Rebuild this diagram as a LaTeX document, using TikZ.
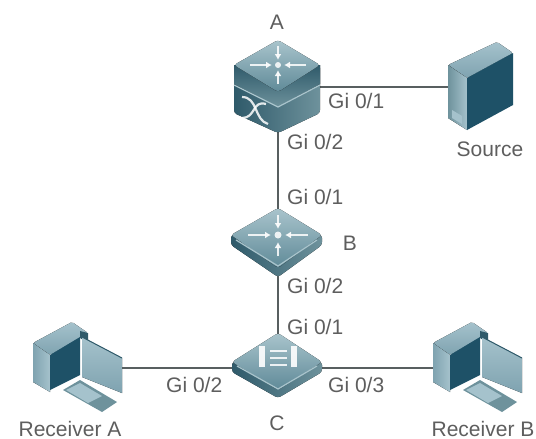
\documentclass[tikz,border=0pt]{standalone}
\usepackage{fontspec}
\setmainfont{Liberation Sans}
\usetikzlibrary{arrows.meta}
\definecolor{ink}{HTML}{5E5E5E}
\definecolor{wirec}{HTML}{585F60}
\definecolor{topa}{HTML}{A9C4CC}
\definecolor{topb}{HTML}{5F8A98}
\definecolor{sidea}{HTML}{6E929C}
\definecolor{sideb}{HTML}{2F5A6A}
\definecolor{darkf}{HTML}{1E5167}
\definecolor{lightf}{HTML}{A5C2CC}
\definecolor{lightg}{HTML}{7FA3B0}
\tikzset{
  x=1pt,y=-1pt,
  lbl/.style={font=\fontsize{21}{21}\selectfont,text=ink,inner sep=0pt},
  lblw/.style={lbl,anchor=west},
  wire/.style={draw=wirec,line width=1.8pt},
  topface/.style={top color=topa,bottom color=topb,draw=none,rounded corners=3pt},
  sideface/.style={left color=sideb,right color=sidea,draw=none,rounded corners=3pt},
  glyph/.style={draw=white,opacity=.85,line width=2.4pt,-{Latex[length=6pt,width=7pt]}},
  glyphthin/.style={draw=white,opacity=.85,line width=2.2pt},
  edgeglow/.style={draw=topa,line width=1.2pt,fill=none},
  dark/.style={fill=darkf,draw=none},
  lightside/.style={top color=lightf,bottom color=lightg,draw=none}
}
\newcommand{\receiverpc}{%
\fill[lightside,rounded corners=1.5pt] (33,343) -- (72,322) -- (88,333) -- (50,355) -- cycle;
\fill[left color=lightg,right color=lightf] (33,343) -- (50,355) -- (50,392) -- (33,382) -- cycle;
\fill[dark] (50,355) -- (80,337) -- (80,375) -- (50,390) -- cycle;
\fill[sideb] (80,331) -- (88,333) -- (88,343) -- (80,338) -- cycle;
\fill[lightside] (82,337) -- (122,358) -- (122,393) -- (82,377) -- cycle;
\draw[sideb,line width=1pt] (82,337) -- (122,358);
\fill[sidea] (63,390) -- (80,380) -- (117,402) -- (102,412) -- cycle;
\fill[lightf] (66,390) -- (80,383) -- (102,396) -- (88,403) -- cycle;
}
\begin{document}
\begin{tikzpicture}
\useasboundingbox (0,0) rectangle (536,439);
\fill[white] (0,0) rectangle (536,439);
% anchor points
\coordinate (A) at (278,87);
\coordinate (B) at (278,240);
\coordinate (C) at (278,368);
\coordinate (S) at (470,87);
\coordinate (RA) at (100,368);
\coordinate (RB) at (450,368);
% connectors
\draw[wire] (A) -- (S);
\draw[wire] (A) -- (B);
\draw[wire] (B) -- (C);
\draw[wire] (C) -- (RA);
\draw[wire] (C) -- (RB);
% device A
\fill[sideface] (234,65) -- (234,113) -- (278,133) -- (320,113) -- (320,65) -- cycle;
\fill[top color=sideb,bottom color=sidea] (234,65) -- (234,84) -- (278,107) -- (320,84) -- (320,65) -- cycle;
\fill[topface] (278,40) -- (320,65) -- (278,92) -- (234,65) -- cycle;
\draw[edgeglow] (234,85) -- (278,107) -- (320,85);
\draw[glyph] (278,46) -- (278,60);
\draw[glyph] (278,84) -- (278,70);
\draw[glyph] (250,65) -- (272,65);
\draw[glyph] (306,65) -- (284,65);
\fill[white,opacity=.85] (278,65) circle (3);
\draw[glyphthin] (242,97) .. controls (258,97) and (254,120) .. (268,124);
\draw[glyphthin] (242,118) .. controls (256,118) and (252,100) .. (266,104);
% device B
\fill[sideface] (231,235) -- (231,245) -- (278,277) -- (322,245) -- (322,235) -- cycle;
\fill[topface] (278,208) -- (322,235) -- (278,268) -- (231,235) -- cycle;
\draw[edgeglow] (236,240) -- (278,266) -- (317,240);
\draw[glyph] (278,215) -- (278,229);
\draw[glyph] (278,256) -- (278,242);
\draw[glyph] (248,235) -- (271,235);
\draw[glyph] (308,235) -- (285,235);
\fill[white,opacity=.85] (278,235) circle (3.5);
% device C
\fill[sideface] (232,362) -- (232,372) -- (278,398) -- (322,372) -- (322,362) -- cycle;
\fill[topface] (278,333) -- (322,362) -- (278,390) -- (232,362) -- cycle;
\draw[edgeglow] (237,366) -- (278,389) -- (317,366);
\fill[white,opacity=.9] (259,346) rectangle (265,367);
\fill[white,opacity=.9] (291,346) rectangle (297,367);
\draw[glyphthin] (270,351) -- (287,351) (270,358) -- (287,358) (270,365) -- (287,365);
% Source
\fill[lightside,rounded corners=1.5pt] (448,65) -- (497,42) -- (513,53) -- (467,78) -- cycle;
\fill[left color=sidea,right color=lightf] (448,65) -- (467,78) -- (467,130) -- (448,118) -- cycle;
\fill[dark] (467,78) -- (513,53) -- (513,105) -- (467,130) -- cycle;
\fill[lightf] (452,110) -- (462,116) -- (462,124) -- (452,118) -- cycle;
% Receivers
\begin{scope}\receiverpc\end{scope}
\begin{scope}[shift={(400,0)}]\receiverpc\end{scope}
% labels
\node[lbl] (la) at (277,22) {A};
\node[lbl] (lb) at (350,243) {B};
\node[lbl] (lc) at (277,423) {C};
\node[lbl] (ls) at (490,149) {Source};
\node[lbl] (lra) at (70,428.5) {Receiver A};
\node[lbl] (lrb) at (483,428.5) {Receiver B};
\node[lblw] (p1) at (328,101) {Gi 0/1};
\node[lblw] (p2) at (287,142) {Gi 0/2};
\node[lblw] (p3) at (287,197) {Gi 0/1};
\node[lblw] (p4) at (287,286) {Gi 0/2};
\node[lblw] (p5) at (287,327) {Gi 0/1};
\node[lblw] (p6) at (166,385) {Gi 0/2};
\node[lblw] (p7) at (328,385) {Gi 0/3};
\end{tikzpicture}
\end{document}
